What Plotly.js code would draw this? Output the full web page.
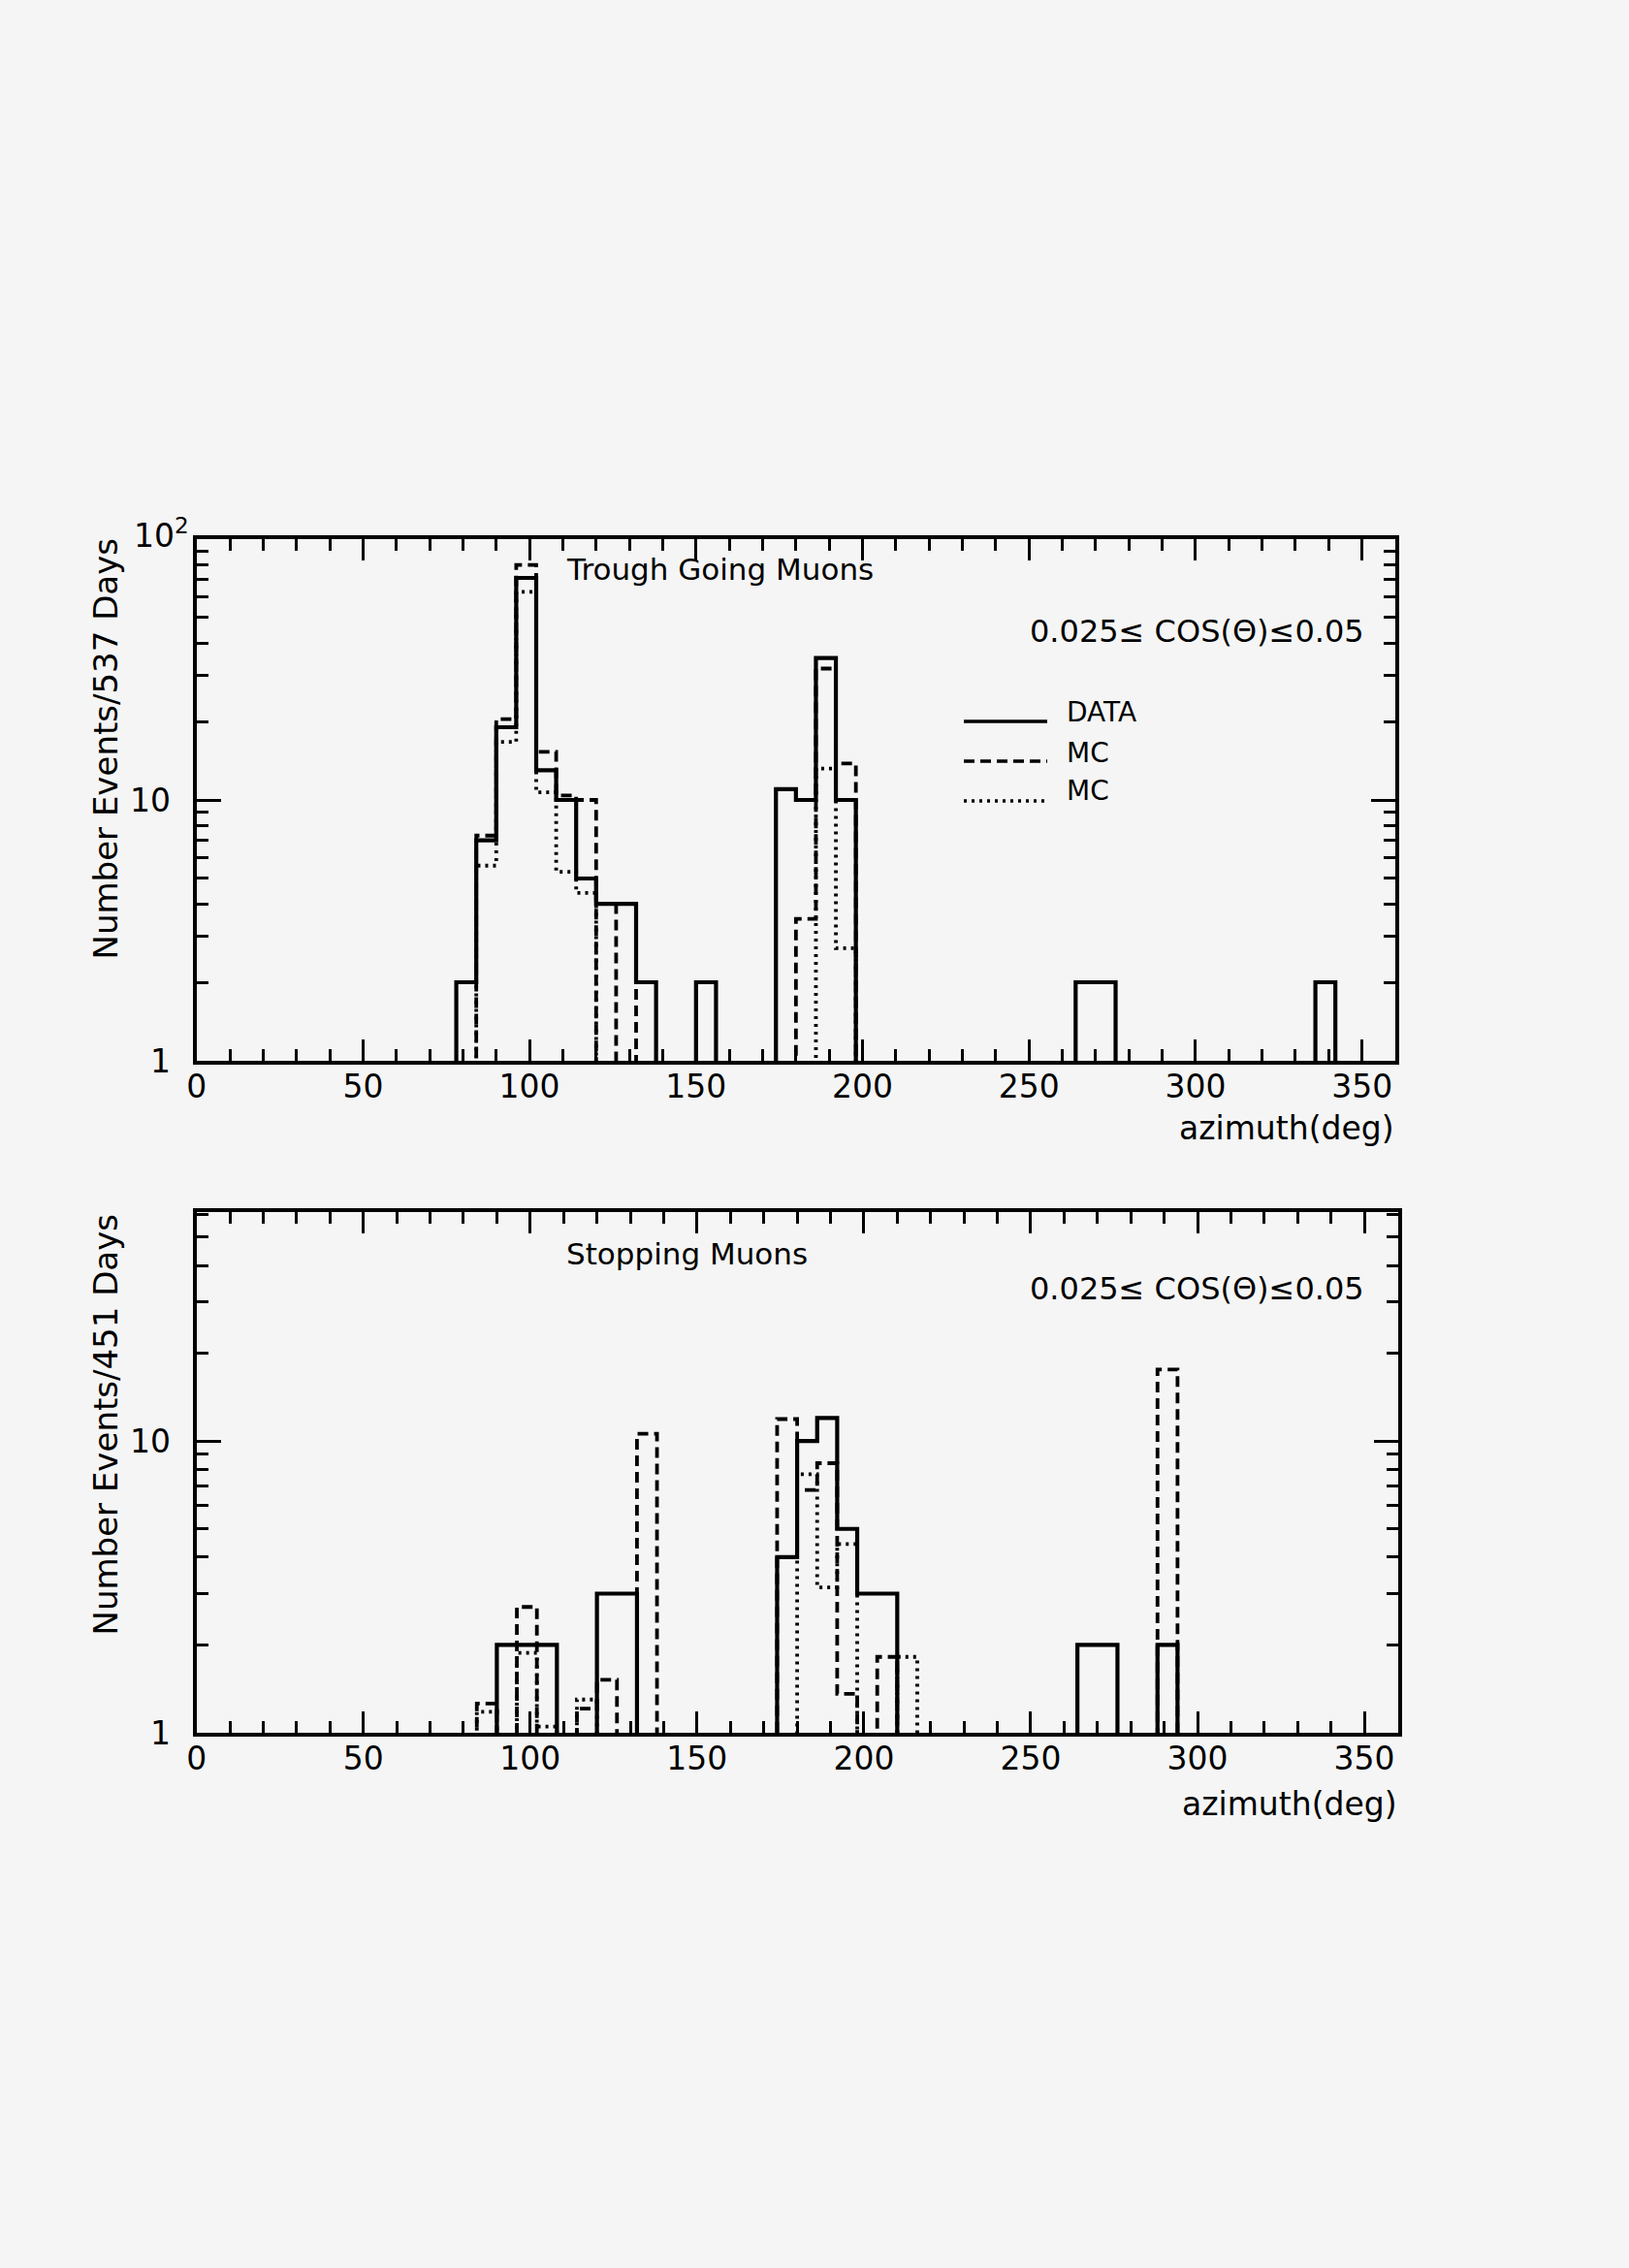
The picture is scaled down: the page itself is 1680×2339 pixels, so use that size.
<!DOCTYPE html>
<html>
<head>
<meta charset="utf-8">
<script src="https://cdn.plot.ly/plotly-3.0.1.min.js"></script>
<style>
  html, body { margin: 0; padding: 0; background: #f5f5f5; }
  #chart { width: 1680px; height: 2339px; }
</style>
</head>
<body>
<div id="chart"></div>
<script>
// ---------------- DATA ----------------
const binWidth = 6;          // degrees per bin
const nBins = 60;            // 0..360 deg

// Top panel: Trough Going Muons (0.025 <= cos(theta) <= 0.05), per 537 days
const topDataBins  = [78, 84, 90, 96, 102, 108, 114, 120, 126, 132, 150, 174, 180, 186, 192, 264, 270, 336];
const topDataVals  = [2, 7, 19, 71, 13, 10, 5, 4, 4, 2, 2, 11, 10, 35, 10, 2, 2, 2];
const topMcDashBins = [84, 90, 96, 102, 108, 114, 126, 180, 186, 192];
const topMcDashVals = [7.3, 20.4, 79.6, 15.3, 10.4, 10.0, 4.0, 3.5, 31.9, 13.8];
const topMcDotBins  = [84, 90, 96, 102, 108, 114, 186, 192];
const topMcDotVals  = [5.6, 16.7, 62.8, 10.7, 5.3, 4.4, 13.2, 2.7];

// Bottom panel: Stopping Muons, per 451 days
const botDataBins  = [90, 96, 102, 120, 126, 174, 180, 186, 192, 198, 204, 264, 270, 288];
const botDataVals  = [2, 2, 2, 3, 3, 4, 10, 12, 5, 3, 3, 2, 2, 2];
const botMcDashBins = [84, 96, 114, 120, 132, 174, 180, 186, 192, 204, 288];
const botMcDashVals = [1.26, 2.7, 1.21, 1.52, 10.6, 11.9, 6.8, 8.4, 1.36, 1.82, 17.6];
const botMcDotBins  = [84, 96, 102, 114, 180, 186, 192, 210];
const botMcDotVals  = [1.18, 1.88, 1.05, 1.30, 7.7, 3.15, 4.44, 1.82];

const xTickVals = [0, 50, 100, 150, 200, 250, 300, 350];
const topYTickVals = [1, 10];
const topYTickText = ['1', '10'];
const topYMaxLabel = '10<sup>2</sup>';          // label of the top of the upper axis (10^2)
const botYTickVals = [1, 10];
const botYTickText = ['1', '10'];

// ---------------- helpers ----------------
const W = 1680, H = 2339;
const FONT = 'DejaVu Sans, Liberation Sans, sans-serif';
const px = v => v / W;
const py = v => 1 - v / H;

// Build a step outline (ROOT-style histogram) from sparse bins
function stepXY(bins, vals) {
  const counts = new Array(nBins).fill(0);
  bins.forEach((b, i) => { counts[Math.round(b / binWidth)] = vals[i]; });
  const floor = 0.1; // empty bins drawn below the axis (clipped)
  const x = [0], y = [floor];
  for (let i = 0; i < nBins; i++) {
    x.push(i * binWidth);
    y.push(counts[i] > 0 ? counts[i] : floor);
  }
  x.push(nBins * binWidth);
  y.push(counts[nBins - 1] > 0 ? counts[nBins - 1] : floor);
  return { x, y };
}

function histTrace(bins, vals, name, dash, xa, ya) {
  const s = stepXY(bins, vals);
  return {
    type: 'scatter', mode: 'lines', name: name,
    x: s.x, y: s.y, xaxis: xa, yaxis: ya,
    line: { shape: 'hv', color: '#000', width: dash === 'solid' ? 4.2 : 3.8, dash: dash, simplify: false },
    showlegend: false, hoverinfo: 'skip'
  };
}

const DASH = '11px,6px';
const DOT = '3px,5px';

const traces = [
  histTrace(topMcDotBins, topMcDotVals, 'MC', DOT, 'x', 'y'),
  histTrace(topMcDashBins, topMcDashVals, 'MC', DASH, 'x', 'y'),
  histTrace(topDataBins, topDataVals, 'DATA', 'solid', 'x', 'y'),
  histTrace(botMcDotBins, botMcDotVals, 'MC', DOT, 'x2', 'y2'),
  histTrace(botMcDashBins, botMcDashVals, 'MC', DASH, 'x2', 'y2'),
  histTrace(botDataBins, botDataVals, 'DATA', 'solid', 'x2', 'y2')
];

function xAxis(domain, anchor) {
  return {
    domain: domain, anchor: anchor, range: [0, 360],
    tickmode: 'array', tickvals: xTickVals,
    ticks: 'inside', ticklen: 22, tickwidth: 3, tickcolor: '#000',
    showline: true, linewidth: 4, linecolor: '#000', mirror: 'ticks',
    showgrid: false, zeroline: false,
    minor: { tickmode: 'linear', tick0: 0, dtick: 10, ticks: 'inside', ticklen: 12, tickwidth: 3, tickcolor: '#000', showgrid: false },
    tickfont: { family: FONT, size: 33, color: '#000' },
    ticklabelstandoff: -6,
    fixedrange: true
  };
}
function yAxis(domain, anchor, range, tv, tt, minorVals) {
  return {
    domain: domain, anchor: anchor, type: 'log', range: range,
    tickmode: 'array', tickvals: tv, ticktext: tt,
    ticks: 'inside', ticklen: 25, tickwidth: 3, tickcolor: '#000',
    showline: true, linewidth: 4, linecolor: '#000', mirror: 'ticks',
    showgrid: false, zeroline: false,
    minor: { tickmode: 'array', tickvals: minorVals, ticks: 'inside', ticklen: 12, tickwidth: 3, tickcolor: '#000', showgrid: false },
    tickfont: { family: FONT, size: 33, color: '#000' },
    ticklabelstandoff: 16,
    fixedrange: true
  };
}

const topMinor = [2,3,4,5,6,7,8,9,20,30,40,50,60,70,80,90];
const botMinor = [2,3,4,5,6,7,8,9,20,30,40,50,60];

function ann(text, x, y, xanchor, size, extra) {
  return Object.assign({
    text: text, xref: 'paper', yref: 'paper', x: px(x), y: py(y),
    xanchor: xanchor, yanchor: 'middle', showarrow: false,
    font: { family: FONT, size: size, color: '#000' }
  }, extra || {});
}

const annotations = [
  ann(topYMaxLabel, 197, 550, 'right', 33),
  ann('Trough Going Muons', 582, 587, 'left', 31),
  ann('0.025\u2264 COS(\u0398)\u22640.05', 1409, 651, 'right', 32),
  ann('DATA', 1098, 735, 'left', 28),
  ann('MC', 1098, 776, 'left', 28),
  ann('MC', 1098, 816, 'left', 28),
  ann('azimuth(deg)', 1440, 1163, 'right', 33),
  ann('Stopping Muons', 582, 1293, 'left', 31),
  ann('0.025\u2264 COS(\u0398)\u22640.05', 1409, 1329, 'right', 32),
  ann('azimuth(deg)', 1443, 1860, 'right', 33),
  ann('Number Events/537 Days', 108, 552, 'center', 34, { textangle: -90, yanchor: 'top' }),
  ann('Number Events/451 Days', 108, 1249, 'center', 34, { textangle: -90, yanchor: 'top' })
];

function legLine(y, dash) {
  return { type: 'line', xref: 'paper', yref: 'paper', x0: px(994), x1: px(1080), y0: py(y), y1: py(y),
           line: { color: '#000', width: 3.5, dash: dash } };
}
const shapes = [legLine(744, 'solid'), legLine(785, DASH), legLine(826, DOT)];

const layout = {
  width: W, height: H,
  margin: { l: 0, r: 0, t: 0, b: 0, pad: 0 },
  paper_bgcolor: '#f5f5f5', plot_bgcolor: '#f5f5f5',
  showlegend: false,
  font: { family: FONT, color: '#000' },
  xaxis: xAxis([px(202.7), px(1439)], 'y'),
  yaxis: yAxis([py(1094), py(556)], 'x', [0, 2], topYTickVals, topYTickText, topMinor),
  xaxis2: xAxis([px(202.7), px(1441.5)], 'y2'),
  yaxis2: yAxis([py(1787), py(1250)], 'x2', [0, Math.log10(61)], botYTickVals, botYTickText, botMinor),
  annotations: annotations,
  shapes: shapes
};

Plotly.newPlot('chart', traces, layout, { staticPlot: true, displayModeBar: false });
</script>
</body>
</html>
